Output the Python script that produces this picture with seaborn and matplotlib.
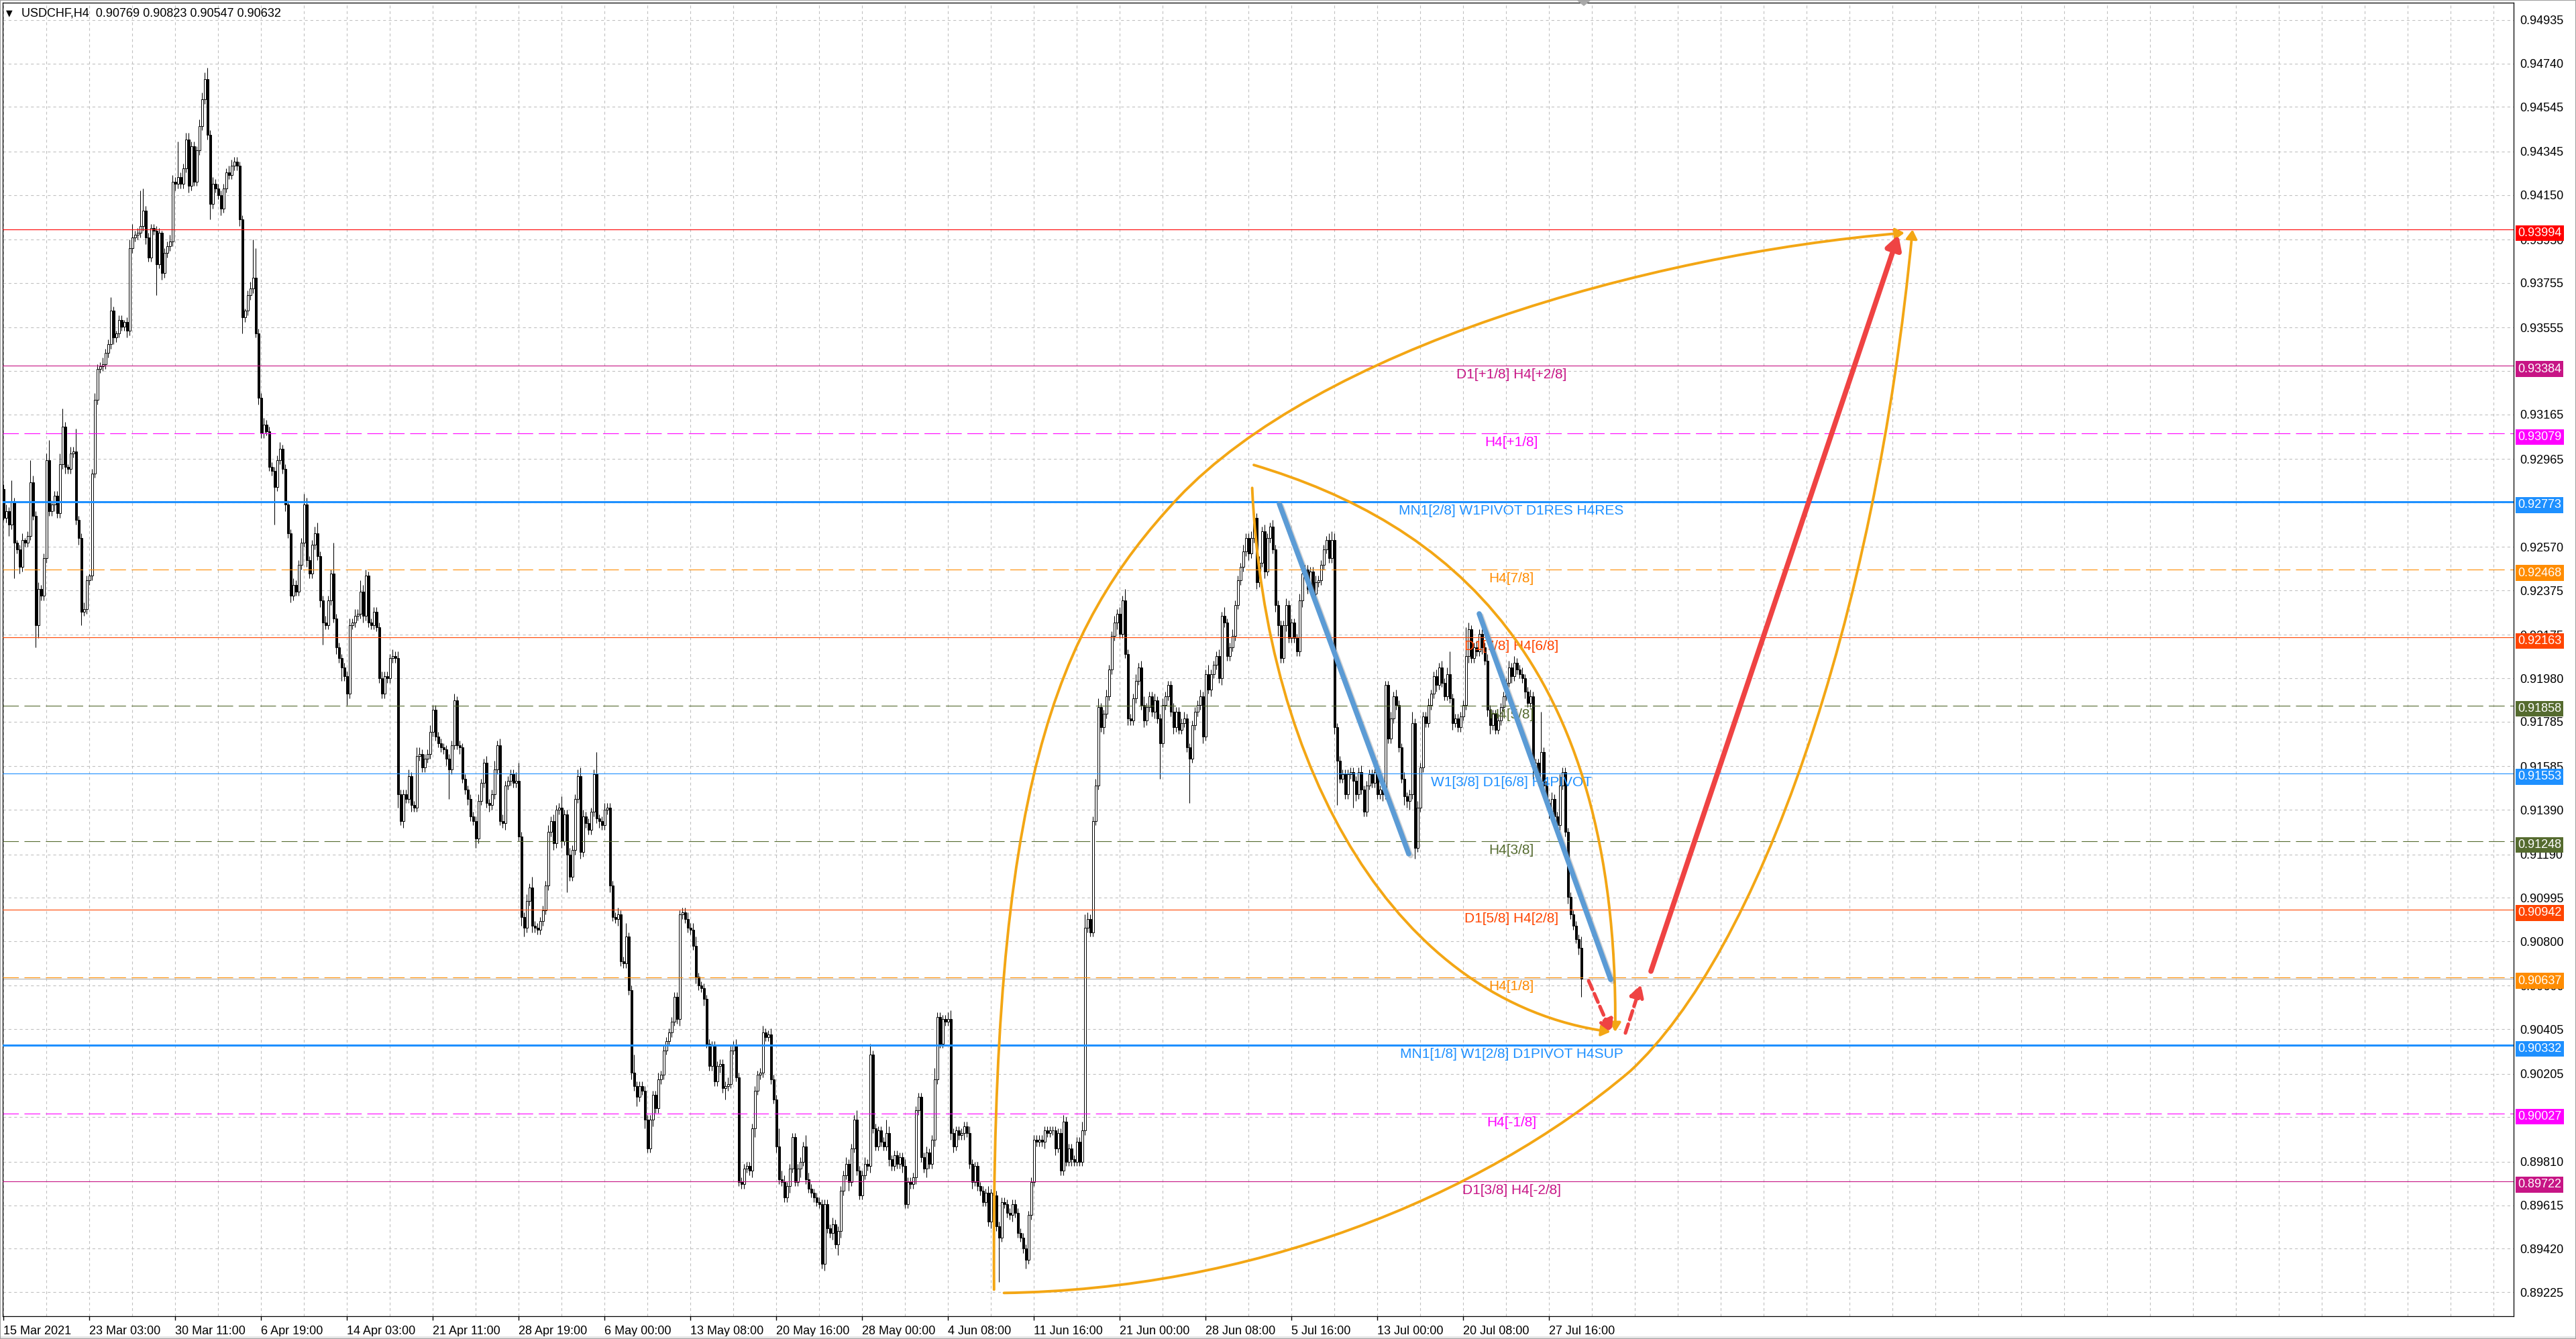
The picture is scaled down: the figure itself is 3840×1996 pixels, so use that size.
import numpy as np
import pandas as pd
import matplotlib
matplotlib.use("Agg")
import matplotlib.pyplot as plt
import seaborn as sns
from matplotlib.path import Path
from matplotlib.patches import FancyArrowPatch, Polygon, Rectangle
from matplotlib.ticker import MultipleLocator
import matplotlib.patheffects as pe

sns.set_theme(style="white")
plt.rcParams['font.family'] = ['Liberation Sans', 'DejaVu Sans']
plt.rcParams['lines.scale_dashes'] = False

# USDCHF H4, prices stored as pips above 0.9000
BASE = 0.9
first_open = 283

# closes, 15 Mar .. mid Apr
close_a = [
    270, 273, 267, 277, 259, 256, 248, 260, 259, 262,
    286, 271, 222, 238, 235, 252, 296, 273, 276, 280,
    272, 294, 311, 293, 292, 299, 300, 269, 261, 228,
    229, 242, 244, 290, 323, 337, 338, 339, 344, 348,
    363, 351, 353, 359, 356, 358, 354, 391, 396, 397,
    398, 401, 408, 396, 387, 400, 399, 384, 398, 380,
    389, 392, 394, 421, 420, 423, 420, 427, 440, 419,
    437, 421, 435, 446, 458, 467, 442, 411, 420, 418,
    415, 409, 418, 425, 424, 428, 430, 428, 404, 360,
    363, 370, 373, 378, 353, 324, 308, 312, 309, 293,
    291, 284, 296, 301, 292, 276, 263, 235, 240, 237,
    249, 259, 276, 251, 245, 258, 263, 253, 233, 223,
    222, 233, 245, 225, 212, 207, 203, 199, 191, 222,
    223, 226, 227, 237, 226, 244, 223, 222, 228, 221,
    198, 191, 199, 198, 207, 208, 207, 146,
]
# closes, mid Apr .. early Jun
close_b = [
    134, 146, 144, 154, 141, 140, 163, 164, 158, 162,
    164, 174, 184, 172, 169, 167, 166, 162, 157, 168,
    188, 168, 167, 153, 148, 144, 136, 134, 126, 143,
    151, 160, 142, 141, 146, 157, 168, 134, 133, 150,
    152, 155, 151, 152, 127, 91, 86, 98, 104, 87,
    86, 85, 89, 94, 105, 129, 134, 124, 139, 140,
    125, 137, 119, 109, 121, 144, 154, 120, 136, 133,
    130, 138, 155, 135, 134, 132, 139, 140, 105, 91,
    90, 92, 71, 70, 82, 58, 21, 15, 10, 15,
    13, 0, -13, 0, 11, 5, 18, 20, 31, 35,
    39, 44, 55, 45, 92, 93, 90, 86, 85, 78,
    64, 60, 59, 54, 34, 24, 33, 17, 24, 25,
    14, 15, 16, 31, 33, 19, -28, -29, -22, -21,
    -23, -4, 13, 20, 21, 39, 37, 38, 18, 9,
    -12, -27, -28, -35, -30, -22, -8, -28, -22, -19,
    -12, -27, -31, -33, -35, -37, -38, -65, -38, -49,
    -51, -47, -56, -50, -32, -25, -20, -28, -13, 0,
    -23, -34, -25, -20, -21, 29, -4, -12, -5, -10,
    -12, -6, -18, -21, -16, -20, -17, -21, -38, -28,
    -29, -26, 4, 10, -17, -22, -15, -20, -9, 18,
    46, 34, 45, 44, 45, -6,
]
# closes, early Jun .. mid Jul
close_c = [
    -12, -5, -7, -6, -3, -6, -20, -28, -21, -30,
    -32, -37, -33, -46, -33, -34, -48, -53, -37, -38,
    -42, -43, -38, -42, -51, -53, -58, -63, -43, -28,
    -9, -10, -9, -10, -5, -6, -5, -5, -13, -6,
    -23, -1, -19, -13, -18, -19, -10, -19, -5, 86,
    90, 84, 134, 150, 185, 176, 182, 190, 202, 217,
    223, 227, 218, 233, 209, 180, 179, 189, 197, 203,
    186, 179, 185, 190, 183, 188, 180, 169,
    186, 190, 195, 183, 176, 183, 175, 178, 180, 167,
    162, 177, 183, 186, 190, 172, 200, 193, 200, 204,
    208, 198, 226,
    223, 208, 212, 217, 231, 242, 248, 255, 261, 254,
    261, 270,
    241, 250, 264, 246, 261, 266, 256, 231, 222, 207,
    222, 231, 216, 223, 216, 210, 233, 245, 247, 238,
    246, 236, 241, 242, 249, 256, 260, 252, 260,
    176, 161, 153, 155, 146, 155, 156, 152, 146, 156,
    148, 138, 150, 155, 151, 156, 146, 148, 146, 195,
    171, 180, 190, 186, 167, 153, 145, 143,
]
# closes, mid Jul .. 29 Jul
close_d = [
    146, 178, 122, 140, 158, 181, 178, 186, 191, 199,
    195, 203, 196, 190, 200, 189, 178, 180, 176, 181,
    186, 208, 220, 207, 212, 210, 218, 212, 206, 184,
    177, 182, 175, 179, 185, 190, 196, 203, 199, 205,
    202, 200, 198, 192, 187, 190, 158, 160, 152, 165,
    150, 142, 138, 144, 136, 132, 150, 156, 129, 100,
    92, 87, 81, 77, 63,
]

# wick lengths in pips, one base-36 digit per bar, 20 bars per row
upper_wick_rows = [
    "232A212312A323223922", "2582132A223212322322", "62122124622GA2222221",
    "22332G22332223335232", "2222332222123HD22322", "22232222322253223522",
    "322E2222232325332222", "23222323222322432223", "22222222322222222322",
    "32242332222482232522", "22232322522322343222", "2A223222232262282222",
    "22223222222222232342", "22222222223223222222", "22232232284322222225",
    "32222222232222322242", "23252222263222223222", "22223225222234222222",
    "32222223222222222222", "22222222222222232222", "22463223422322323252",
    "22323422232232224222", "32222232242223242232", "22322322323223222232",
    "22232222232222343222", "22222232222322222323", "2232252322232232323A",
    "22222D32232223222322", "2323223223222I222322", "522222225",
]
lower_wick_rows = [
    "1252G2322222A6222223", "22232222362222222222", "23222232222223222E23",
    "22223222232222222722", "23222222372222232222", "2H22232322222322223A",
    "22223262522222322222", "22222226232232222222", "222223D2223223224222",
    "23222223222224422322", "2222232232H222232222", "22322232232222324224",
    "22322222222232222232", "23222223252222222223", "42222222322223222422",
    "22222232232532242222", "22232222223222232222", "32224223222223322232",
    "23222222322K22223222", "24222222322232222232", "22222222223222232223",
    "22222322232G22223222", "22K22223223222322222", "22223223223222352232",
    "22223222232222223K22", "222C3222222222322222", "22434252222222322222",
    "32222232222323422222", "22322223225223223232", "222322238",
]

closes = close_a + close_b + close_c + close_d
upper_wick = [int(c, 36) for c in "".join(upper_wick_rows)]
lower_wick = [int(c, 36) for c in "".join(lower_wick_rows)]
assert len(closes) == len(upper_wick) == len(lower_wick), (len(closes), len(upper_wick), len(lower_wick))

df = pd.DataFrame({"close": closes})
df["open"] = [first_open] + closes[:-1]
df["high"] = df[["open", "close"]].max(axis=1) + upper_wick
df["low"] = df[["open", "close"]].min(axis=1) - lower_wick
for col in ["open", "high", "low", "close"]:
    df[col] = BASE + df[col] / 1e4
df["bar"] = np.arange(len(df))

# Murrey-style levels
levels = [0.93994, 0.93384, 0.93079, 0.92773, 0.92468, 0.92163, 0.91858,
          0.91553, 0.91248, 0.90942, 0.90637, 0.90332, 0.90027, 0.89722]
level_colors = ["#FF0000", "#C71585", "#FF00FF", "#1E90FF", "#FF8C00", "#FF4500", "#556B2F",
                "#1E90FF", "#556B2F", "#FF4500", "#FF8C00", "#1E90FF", "#FF00FF", "#C71585"]
level_dashed = [False, False, True, False, True, False, True,
                False, True, False, True, False, True, False]
level_thick = [False, False, False, True, False, False, False,
               False, False, False, False, True, False, False]
level_texts = ["", "D1[+1/8] H4[+2/8]", "H4[+1/8]", "MN1[2/8] W1PIVOT D1RES H4RES", "H4[7/8]",
               "D1[7/8] H4[6/8]", "H4[5/8]", "W1[3/8] D1[6/8] H4PIVOT", "H4[3/8]",
               "D1[5/8] H4[2/8]", "H4[1/8]", "MN1[1/8] W1[2/8] D1PIVOT H4SUP", "H4[-1/8]",
               "D1[3/8] H4[-2/8]"]
label_bar = 562

y_ticks = [0.94935, 0.94740, 0.94545, 0.94345, 0.94150, 0.93950, 0.93755, 0.93555, 0.93360,
           0.93165, 0.92965, 0.92770, 0.92570, 0.92375, 0.92175, 0.91980, 0.91785, 0.91585,
           0.91390, 0.91190, 0.90995, 0.90800, 0.90600, 0.90405, 0.90205, 0.90010, 0.89810,
           0.89615, 0.89420, 0.89225]
x_tick_bars = list(range(0, 577, 32))
x_tick_labels = ["15 Mar 2021", "23 Mar 03:00", "30 Mar 11:00", "6 Apr 19:00", "14 Apr 03:00",
                 "21 Apr 11:00", "28 Apr 19:00", "6 May 00:00", "13 May 08:00", "20 May 16:00",
                 "28 May 00:00", "4 Jun 08:00", "11 Jun 16:00", "21 Jun 00:00", "28 Jun 08:00",
                 "5 Jul 16:00", "13 Jul 00:00", "20 Jul 08:00", "27 Jul 16:00"]

# drawn objects: (bar, pips) control points of cubic curves
outer_upper = [(369.2, -76.4), (368.0, 148.5), (391.9, 220.0), (437.8, 279.0),
               (489.9, 345.4), (611.1, 388.2), (708.5, 398.0)]
outer_lower = [(372.9, -77.9), (464.1, -76.4), (549.9, -35.9), (606.2, 21.6),
               (653.9, 74.7), (697.5, 222.2), (711.5, 399.5)]
inner_upper = [(466.0, 293.8), (537.6, 268.0), (601.9, 207.5), (600.7, 39.3)]
inner_lower = [(465.4, 283.5), (470.3, 155.9), (519.3, 52.6), (598.9, 39.3)]
blue_trends = [((475.5, 276.4), (523.75, 119.2)), ((550.0, 227.0), (599.0, 62.8))]
red_arrow = ((614.0, 66.5), (706.25, 397.1))
red_dashed = [((590.8, 62.2), (599.3, 38.8)), ((604.5, 38.8), (610.3, 60.5))]

W, H = 3840, 1996
fig = plt.figure(figsize=(W / 100, H / 100), dpi=100)
fig.patch.set_facecolor("white")
ax = fig.add_axes([4 / W, 34 / H, (3747 - 4) / W, (1962 - 4) / H])
ax.set_facecolor("white")

# candles
bull = df["close"] >= df["open"]
ax.vlines(df["bar"], df["low"], df["high"], color="black", lw=0.75, zorder=2)
body_lo = df[["open", "close"]].min(axis=1)
body_h = (df["close"] - df["open"]).abs().clip(lower=0.00001)
ax.bar(df["bar"], body_h, bottom=body_lo, width=0.75,
       color=np.where(bull, "white", "black"), edgecolor="black", linewidth=0.7, zorder=2.1)

# current price line
ax.axhline(df["close"].iloc[-1], color="#B0B0B0", lw=0.8, zorder=1.5)

# levels
for v, c, d, t, txt in zip(levels, level_colors, level_dashed, level_thick, level_texts):
    ax.axhline(v, color=c, lw=2.2 if t else 0.8,
               ls=(0, (17, 6)) if d else "-", zorder=3)
    if txt:
        ax.annotate(txt, xy=(label_bar, v), xytext=(0, -4), textcoords="offset pixels",
                    ha="center", va="top", color=c, fontsize=15, zorder=3.5)

arc_color = "#F3A614"


def curve(points):
    verts = [(b, BASE + p / 1e4) for b, p in points]
    codes = [Path.MOVETO] + [Path.CURVE4] * (len(verts) - 1)
    return Path(verts, codes)


for pts in [outer_upper, outer_lower, inner_upper, inner_lower]:
    ax.add_patch(FancyArrowPatch(path=curve(pts), arrowstyle="-|>,head_length=0.36,head_width=0.22",
                                 mutation_scale=22, color=arc_color, lw=2.8, zorder=4))

shadow = [pe.SimpleLineShadow(offset=(2, -2), shadow_color="#808080", alpha=0.35), pe.Normal()]
for (b0, p0), (b1, p1) in blue_trends:
    ax.plot([b0, b1], [BASE + p0 / 1e4, BASE + p1 / 1e4], color="#5B9BD5", lw=5.5,
            solid_capstyle="round", zorder=5, path_effects=shadow)

(b0, p0), (b1, p1) = red_arrow
ax.add_patch(FancyArrowPatch((b0, BASE + p0 / 1e4), (b1, BASE + p1 / 1e4), shrinkA=0, shrinkB=0,
                             arrowstyle="-|>,head_length=0.6,head_width=0.34", mutation_scale=20,
                             color="#EF4343", lw=5.5, zorder=5,
                             path_effects=[pe.withSimplePatchShadow(offset=(2, -2), alpha=0.3)]))
for (b0, p0), (b1, p1) in red_dashed:
    ax.add_patch(FancyArrowPatch((b0, BASE + p0 / 1e4), (b1, BASE + p1 / 1e4), shrinkA=0, shrinkB=0,
                                 arrowstyle="-|>,head_length=0.8,head_width=0.45", mutation_scale=14,
                                 color="#EF4343", lw=3.8, ls=(0, (10, 5)), zorder=5))

# axes, grid, ticks
ax.set_xlim(-0.25, 935.5)
ax.set_ylim(0.891166, 0.950133)
ax.set_xticks(x_tick_bars)
ax.set_xticklabels(x_tick_labels, ha="left")
ax.xaxis.set_minor_locator(MultipleLocator(16))
ax.set_yticks(y_ticks)
ax.set_yticklabels([f"{v:.5f}" for v in y_ticks])
ax.yaxis.tick_right()
ax.tick_params(axis="y", length=0, pad=6.5, labelsize=13, colors="black")
ax.tick_params(axis="x", which="major", length=4, width=1, pad=6, labelsize=13, colors="black",
               direction="out", bottom=True)
ax.tick_params(axis="x", which="minor", length=0)
ax.grid(True, which="major", color="#C0C0C0", ls=(0, (3, 3)), lw=0.8)
ax.grid(True, which="minor", axis="x", color="#C0C0C0", ls=(0, (3, 3)), lw=0.8)
ax.set_axisbelow(True)
for s in ax.spines.values():
    s.set_color("black")
    s.set_linewidth(0.9)

# price tags on the right axis
ax.annotate(f"{df['close'].iloc[-1]:.5f}", xy=(1, df["close"].iloc[-1]),
            xycoords=("axes fraction", "data"), xytext=(6, -2), textcoords="offset pixels",
            ha="left", va="center", color="white", fontsize=13, annotation_clip=False,
            bbox=dict(boxstyle="square,pad=0.18", fc="black", ec="none"), zorder=6)
for v, c in zip(levels, level_colors):
    ax.annotate(f"{v:.5f}", xy=(1, v), xycoords=("axes fraction", "data"), xytext=(6, -5),
                textcoords="offset pixels", ha="left", va="center", color="white", fontsize=13,
                annotation_clip=False, bbox=dict(boxstyle="square,pad=0.18", fc=c, ec="none"),
                zorder=6)

# header and window details
fig.text(14 / W, 1 - 20 / H, "\u25bc", fontsize=9, ha="center", va="center",
         family=["DejaVu Sans"], color="black")
fig.text(32 / W, 1 - 20 / H, "USDCHF,H4  0.90769 0.90823 0.90547 0.90632", fontsize=13,
         ha="left", va="center", color="black")
fig.add_artist(Polygon([[2350 / W, 1], [2372 / W, 1], [2361 / W, 1 - 9 / H]], closed=True,
                       transform=fig.transFigure, fc="#A8A8A8", ec="none"))
fig.add_artist(Rectangle((0, 0), 1, 4 / H, transform=fig.transFigure, fc="#E6E6E6", ec="none"))
fig.add_artist(Rectangle((0, 0), 1, 1, transform=fig.transFigure, fill=False, ec="#A0A0A0", lw=1.5))

fig.savefig("out.png", dpi=100)
